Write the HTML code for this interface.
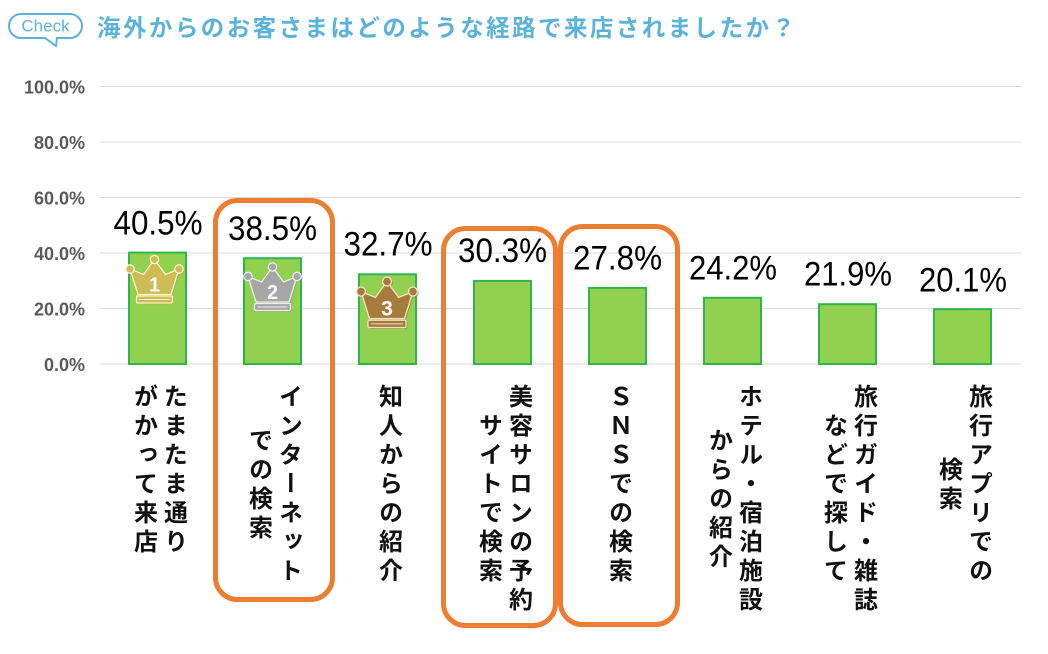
<!DOCTYPE html>
<html><head><meta charset="utf-8">
<style>
html,body{margin:0;padding:0;background:#fff;}
#wrap{position:relative;width:1048px;height:654px;overflow:hidden;background:#fff;}
svg{position:absolute;left:0;top:0;}
.vl{position:absolute;top:384px;writing-mode:vertical-rl;text-orientation:upright;text-align:center;
font-family:"Liberation Sans","Noto Sans CJK JP",sans-serif;font-weight:700;font-size:24px;letter-spacing:5px;line-height:30px;color:#111;white-space:nowrap;}
</style></head><body>
<div id="wrap">
<svg width="1048" height="654" viewBox="0 0 1048 654" xmlns="http://www.w3.org/2000/svg">
  <!-- Check bubble -->
  <path d="M21,14 H70 A12,12 0 0 1 82,26 A12,12 0 0 1 70,38 H57 L56,46 L45,38 H21 A12,12 0 0 1 9,26 A12,12 0 0 1 21,14 Z" fill="#fff" stroke="#5bb3d9" stroke-width="2"/>
  <text x="45.5" y="31.5" text-anchor="middle" font-family="Liberation Sans, sans-serif" font-size="17" fill="#5bb3d9">Check</text>
  <!-- Title -->
  <text x="97" y="36" font-family="Liberation Sans, Noto Sans CJK JP, sans-serif" font-weight="700" font-size="23.5" fill="#5bb3d9" textLength="698" lengthAdjust="spacing">海外からのお客さまはどのような経路で来店されましたか？</text>

  <!-- grid -->
  <g stroke="#d9d9d9" stroke-width="1">
    <line x1="100" x2="1021" y1="86.5" y2="86.5"/>
    <line x1="100" x2="1021" y1="142" y2="142"/>
    <line x1="100" x2="1021" y1="197.5" y2="197.5"/>
    <line x1="100" x2="1021" y1="253" y2="253"/>
    <line x1="100" x2="1021" y1="308.5" y2="308.5"/>
    <line x1="100" x2="1021" y1="364" y2="364"/>
  </g>
  <g font-family="Liberation Sans, sans-serif" font-weight="700" font-size="18" fill="#5a5a5a" text-anchor="end">
    <text x="85" y="93.5">100.0%</text>
    <text x="85" y="149">80.0%</text>
    <text x="85" y="204.5">60.0%</text>
    <text x="85" y="260">40.0%</text>
    <text x="85" y="315.5">20.0%</text>
    <text x="85" y="371">0.0%</text>
  </g>

  <!-- bars -->
  <g fill="#92d050" stroke="#2db54e" stroke-width="2">
    <rect x="129" y="252.6" width="57" height="111.4"/>
    <rect x="244" y="258.2" width="57" height="105.8"/>
    <rect x="359" y="274.3" width="57" height="89.7"/>
    <rect x="474" y="280.9" width="57" height="83.1"/>
    <rect x="589" y="287.9" width="57" height="76.1"/>
    <rect x="704" y="297.8" width="57" height="66.2"/>
    <rect x="819" y="304.2" width="57" height="59.8"/>
    <rect x="934" y="309.2" width="57" height="54.8"/>
  </g>

  <!-- value labels -->
  <g font-family="Liberation Sans, sans-serif" font-size="34" fill="#000" text-anchor="middle">
    <text x="158" y="234.5" textLength="89" lengthAdjust="spacingAndGlyphs">40.5%</text>
    <text x="272.5" y="240" textLength="89" lengthAdjust="spacingAndGlyphs">38.5%</text>
    <text x="388" y="255.5" textLength="89" lengthAdjust="spacingAndGlyphs">32.7%</text>
    <text x="502.5" y="262" textLength="89" lengthAdjust="spacingAndGlyphs">30.3%</text>
    <text x="617.5" y="269.3" textLength="89" lengthAdjust="spacingAndGlyphs">27.8%</text>
    <text x="733" y="279.3" textLength="88" lengthAdjust="spacingAndGlyphs">24.2%</text>
    <text x="848" y="285.5" textLength="88" lengthAdjust="spacingAndGlyphs">21.9%</text>
    <text x="963" y="291.5" textLength="88" lengthAdjust="spacingAndGlyphs">20.1%</text>
  </g>

  <!-- crowns -->
  <defs>
    <g id="crownShape">
      <path d="M-24.5,9.5 L-11,15 L0,0 L11,15 L24.5,9.5 L16.5,35 L-16.5,35 Z"/>
      <circle cx="-24.5" cy="9.5" r="4.2"/>
      <circle cx="0" cy="0" r="4.2"/>
      <circle cx="24.5" cy="9.5" r="4.2"/>
      <rect x="-18" y="36.5" width="36" height="7" rx="1.5"/>
    </g>
  </defs>
  <g transform="translate(154.5,259.5)">
    <use href="#crownShape" transform="translate(1.3,1.3)" fill="#b3a443" stroke="none" opacity="0.5"/>
    <use href="#crownShape" fill="#cdbb55" stroke="#fff5c8" stroke-width="1.3"/>
    <line x1="-15" x2="15" y1="40" y2="40" stroke="#fff5c8" stroke-width="1"/>
    <text x="0" y="32" text-anchor="middle" font-family="Liberation Sans, sans-serif" font-weight="700" font-size="20" fill="#fff">1</text>
  </g>
  <g transform="translate(272.5,267)">
    <use href="#crownShape" transform="translate(1.3,1.3)" fill="#888" stroke="none" opacity="0.5"/>
    <use href="#crownShape" fill="#a6a6a6" stroke="#eeeeee" stroke-width="1.3"/>
    <line x1="-15" x2="15" y1="40" y2="40" stroke="#eee" stroke-width="1"/>
    <text x="0" y="32" text-anchor="middle" font-family="Liberation Sans, sans-serif" font-weight="700" font-size="20" fill="#fff">2</text>
  </g>
  <g transform="translate(387,281.5) scale(1.06)">
    <use href="#crownShape" transform="translate(1.3,1.3)" fill="#8a6630" stroke="none" opacity="0.5"/>
    <use href="#crownShape" fill="#a67c3c" stroke="#f2dfc0" stroke-width="1.3"/>
    <line x1="-15" x2="15" y1="40" y2="40" stroke="#f2dfc0" stroke-width="1"/>
    <text x="0" y="32" text-anchor="middle" font-family="Liberation Sans, sans-serif" font-weight="700" font-size="20" fill="#fff">3</text>
  </g>

  <!-- orange highlight boxes -->
  <g fill="none" stroke="#ed7d31" stroke-width="5">
    <rect x="215.5" y="200.5" width="117" height="399" rx="22" ry="22"/>
    <rect x="443.5" y="228.5" width="112" height="397" rx="22" ry="22"/>
    <rect x="560.5" y="226.5" width="117" height="398" rx="22" ry="22"/>
  </g>
</svg>

<!-- vertical category labels -->
<div class="vl" style="left:127.5px;width:60px;height:174px;">たまたま通り<br>がかって来店</div>
<div class="vl" style="left:242.5px;width:60px;height:203px;">インターネット<br>での検索</div>
<div class="vl" style="left:372.5px;width:30px;height:203px;">知人からの紹介</div>
<div class="vl" style="left:472.5px;width:60px;height:232px;">美容サロンの予約<br>サイトで検索</div>
<div class="vl" style="left:602.5px;width:30px;height:203px;">ＳＮＳでの検索</div>
<div class="vl" style="left:702.5px;width:60px;height:232px;">ホテル・宿泊施設<br>からの紹介</div>
<div class="vl" style="left:817.5px;width:60px;height:232px;">旅行ガイド・雑誌<br>などで探して</div>
<div class="vl" style="left:932.5px;width:60px;height:203px;">旅行アプリでの<br>検索</div>
</div>
</body></html>
